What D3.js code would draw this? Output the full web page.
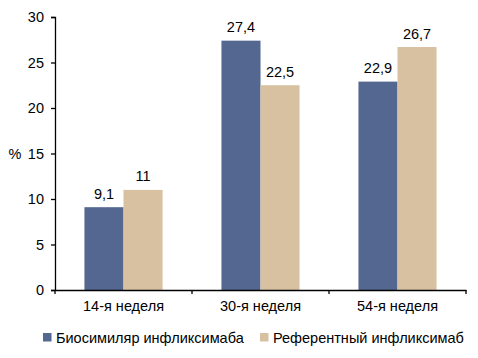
<!DOCTYPE html>
<html><head><meta charset="utf-8">
<script src="https://cdn.jsdelivr.net/npm/d3@7"></script>
<style>body{margin:0;background:#fff}svg{display:block}text{font-family:"Liberation Sans",Arial,sans-serif;fill:#000}</style>
</head><body><svg id="c" width="478" height="358"></svg>
<script>
const categories = ["14-я неделя", "30-я неделя", "54-я неделя"];
const seriesNames = ["Биосимиляр инфликсимаба", "Референтный инфликсимаб"];
const biosimilar = [9.1, 27.4, 22.9];
const reference = [11, 22.5, 26.7];
const yTicks = [0, 5, 10, 15, 20, 25, 30];
const colors = ["#536790", "#d8c1a1"];
const fmt = v => String(v).replace(".", ",");

(function () {
const svg = d3.select("#c");
const pLeft = 55, pRight = 466, pTop = 17, pBottom = 290;
const x = d3.scaleBand().domain(categories).range([pLeft, pRight]).paddingInner(0.43).paddingOuter(0.215);
const x1 = d3.scaleBand().domain([0, 1]).range([0, x.bandwidth()]);
const y = d3.scaleLinear().domain([0, 30]).range([pBottom, pTop]);
const series = [biosimilar, reference];

series.forEach((vals, si) => {
  svg.append("g").selectAll("rect").data(categories).join("rect")
    .attr("x", d => x(d) + x1(si))
    .attr("y", (d, i) => y(vals[i]))
    .attr("width", x1.bandwidth())
    .attr("height", (d, i) => y(0) - y(vals[i]))
    .attr("fill", colors[si]);
  svg.append("g").selectAll("text").data(categories).join("text")
    .attr("x", d => x(d) + x1(si) + x1.bandwidth() / 2)
    .attr("y", (d, i) => y(vals[i]) - 8.5)
    .attr("text-anchor", "middle")
    .style("font-size", "14.5px")
    .text((d, i) => fmt(vals[i]));
});

const ya = svg.append("g").attr("transform", `translate(${pLeft},0)`)
  .call(d3.axisLeft(y).tickValues(yTicks).tickSize(4).tickPadding(7));
ya.attr("font-family", null);
ya.select(".domain").attr("stroke", "#000").attr("stroke-width", 1.3);
ya.selectAll(".tick line").attr("stroke", "#000").attr("stroke-width", 1.3);
ya.selectAll("text").style("font-size", "14.5px");

const xa = svg.append("g").attr("transform", `translate(0,${pBottom})`)
  .call(d3.axisBottom(x).tickSize(0).tickPadding(11));
xa.attr("font-family", null);
xa.select(".domain").attr("stroke", "#000").attr("stroke-width", 1.3);
xa.selectAll("text").style("font-size", "14.5px");
const bounds = [pLeft].concat(categories.map(c => x(c) + x.bandwidth() + x.step() * x.paddingInner() / 2));
bounds[bounds.length - 1] = pRight;
xa.selectAll("line.b").data(bounds).join("line").attr("class", "b")
  .attr("x1", d => d).attr("x2", d => d).attr("y1", 0).attr("y2", 4)
  .attr("stroke", "#000").attr("stroke-width", 1.3);

svg.append("text").attr("x", 15).attr("y", 159).attr("text-anchor", "middle").style("font-size", "14.5px").text("%");

const legX = [43, 260];
seriesNames.forEach((n, i) => {
  svg.append("rect").attr("x", legX[i]).attr("y", 333).attr("width", 8.5).attr("height", 8.5).attr("fill", colors[i]);
  svg.append("text").attr("x", legX[i] + 13).attr("y", 343).style("font-size", "14.5px").text(n);
});
})();
</script></body></html>
